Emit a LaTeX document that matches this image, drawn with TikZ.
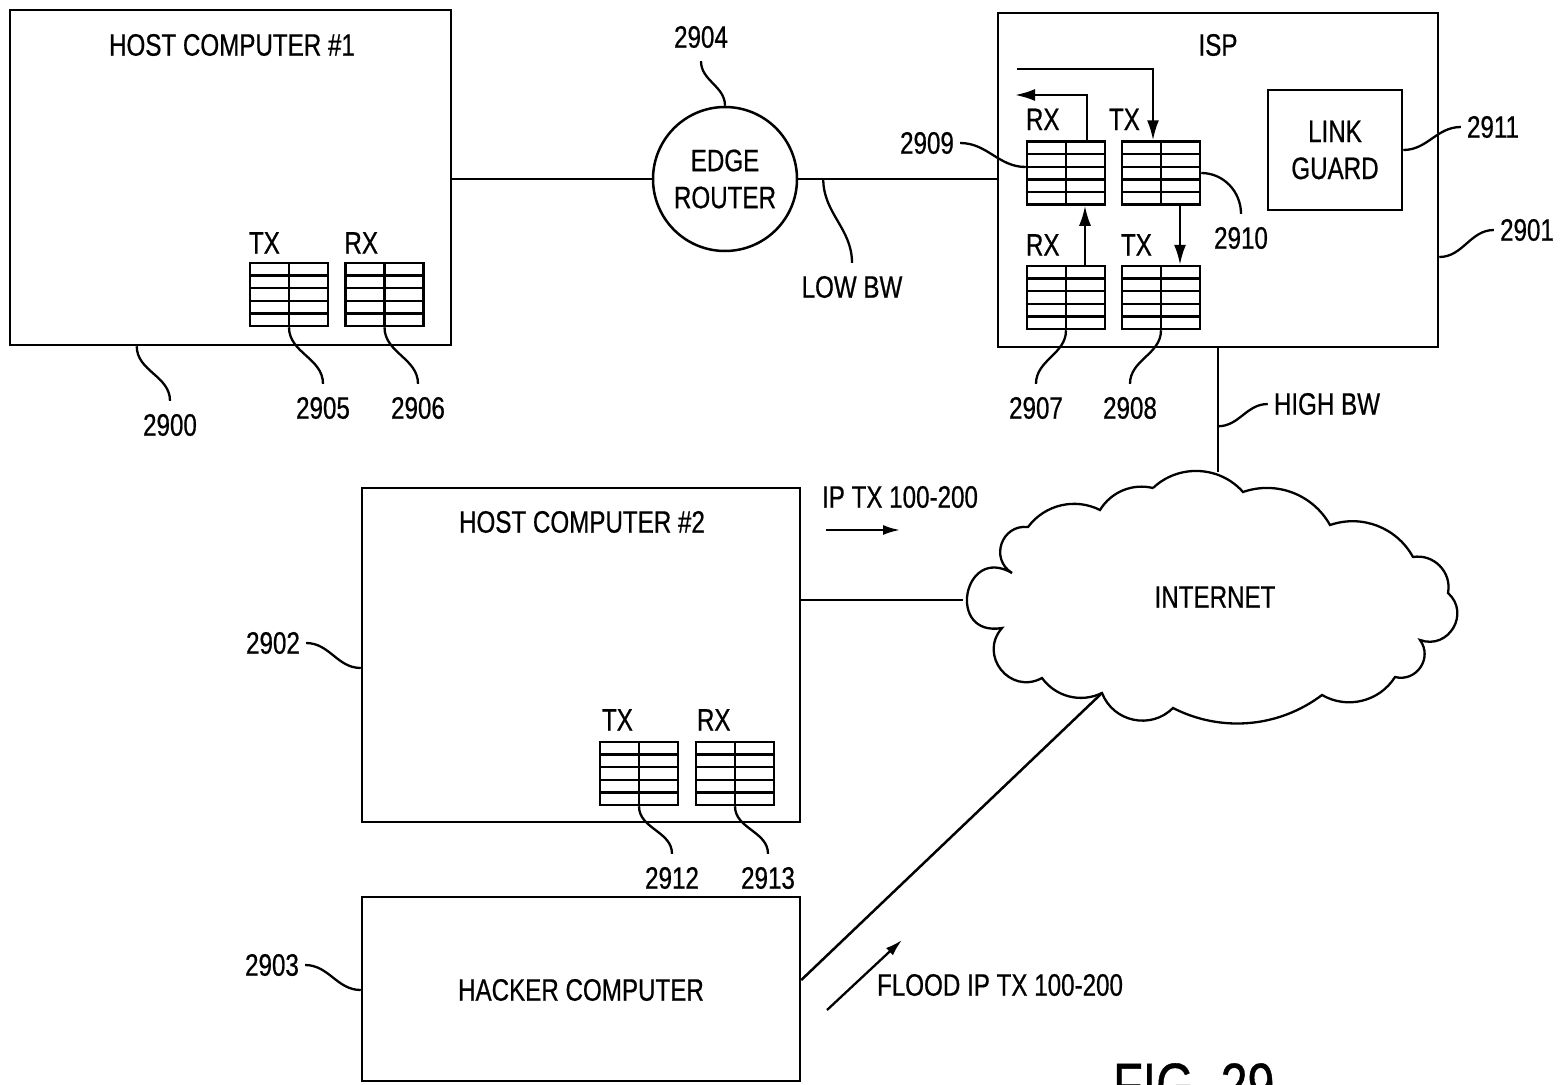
\documentclass[tikz,border=0pt]{standalone}
\usepackage{fontspec}
\setmainfont[FakeStretch=0.78,FakeBold=0.6]{Liberation Sans}
\usetikzlibrary{arrows.meta,calc}
\tikzset{
  box/.style={draw, line width=2.5pt, inner sep=0pt, rectangle},
  queue/.style={draw, line width=2.5pt, inner sep=0pt, minimum width=78pt, minimum height=63pt,
    path picture={
      \foreach \k in {1,2,3,4}{
        \draw[line width=2.4pt] ($(path picture bounding box.north west)!\k/5!(path picture bounding box.south west)$) -- ($(path picture bounding box.north east)!\k/5!(path picture bounding box.south east)$);}
      \draw[line width=2.4pt] (path picture bounding box.north) -- (path picture bounding box.south);}},
  qlab/.style={anchor=south west, inner sep=0pt},
  lbl/.style={inner xsep=6pt, inner ysep=13pt},
  lead/.style={line width=2.3pt},
  conn/.style={line width=2.5pt},
  arr/.style={line width=2.3pt, -{Latex[length=20pt,width=12pt]}},
  sarr/.style={line width=2.3pt, -{Latex[length=17pt,width=10pt]}}
}
\begin{document}
\begin{tikzpicture}[x=1pt,y=-1pt, font=\fontsize{31}{37}\selectfont]
\useasboundingbox (0,0) rectangle (1565,1084);

% Host computer 1
\node[box, minimum width=441pt, minimum height=335pt] (h1) at (230.5,177.5) {};
\node (t1) at (232,45) {HOST COMPUTER \#1};
\node[queue] (q2905) at (289,294.5) {};
\node[queue] (q2906) at (384.5,294.5) {};
\node[qlab] (tx1) at ([yshift=8pt]q2905.north west) {TX};
\node[qlab] (rx1) at ([yshift=8pt]q2906.north west) {RX};
\node[lbl] (l2900) at (170,425) {2900};
\node[lbl] (l2905) at (323,408) {2905};
\node[lbl] (l2906) at (418,408) {2906};
\draw[lead] ($(h1.south west)+(128,0)$) to[out=-90,in=90] (l2900.north);
\draw[lead] (q2905.south) to[out=-90,in=90] (l2905.north);
\draw[lead] (q2906.south) to[out=-90,in=90] (l2906.north);

% Edge router
\node[draw, circle, line width=2.5pt, minimum size=144pt, inner sep=0pt, align=center] (rt) at (725,179) {EDGE\\ROUTER};
\node[lbl] (l2904) at (701,37) {2904};
\draw[lead] (l2904.south) to[out=-90,in=90] (rt.north);
\node[lbl] (llow) at (852,287) {LOW BW};

% ISP
\node[box, minimum width=440pt, minimum height=334pt] (isp) at (1218,180) {};
\node (tisp) at (1218,45) {ISP};
\node[queue] (q2909) at (1066,173) {};
\node[queue] (q2910) at (1161,173) {};
\node[queue] (q2907) at (1066,297.5) {};
\node[queue] (q2908) at (1161,297.5) {};
\node[qlab] (rx2) at ([yshift=10pt]q2909.north west) {RX};
\node[qlab] (tx2) at ([xshift=-12pt,yshift=10pt]q2910.north west) {TX};
\node[qlab] (rx3) at ([yshift=9pt]q2907.north west) {RX};
\node[qlab] (tx3) at ([yshift=9pt]q2908.north west) {TX};
\node[box, minimum width=134pt, minimum height=120pt, align=center] (lg) at (1335,150) {LINK\\GUARD};
\coordinate (fb) at (1017,69);
\coordinate (rxo) at (1015,95);
\draw[arr] (fb) -| ($(q2910.north)+(-8,0)$);
\draw[arr] ($(q2909.north)+(21,0)$) |- (rxo);
\draw[arr] ($(q2907.north)+(19,0)$) -- ($(q2909.south)+(19,0)$);
\draw[arr] ($(q2910.south)+(19,0)$) -- ($(q2908.north)+(19,0)$);
\node[lbl] (l2909) at (927,143) {2909};
\node[lbl] (l2910) at (1241,238) {2910};
\node[lbl] (l2911) at (1493,127) {2911};
\node[lbl] (l2901) at (1527,230) {2901};
\node[lbl] (l2907) at (1036,408) {2907};
\node[lbl] (l2908) at (1130,408) {2908};
\node[lbl] (lhigh) at (1327,404) {HIGH BW};
\draw[lead] (l2909.east) to[out=0,in=180] ($(q2909.west)+(0,-6)$);
\draw[lead] (q2910.east) to[out=0,in=90] (l2910.north);
\draw[lead] (lg.east) to[out=0,in=180] (l2911.west);
\draw[lead] ($(isp.east)+(0,77)$) to[out=0,in=180] (l2901.west);
\draw[lead] (q2907.south) to[out=-90,in=90] (l2907.north);
\draw[lead] (q2908.south) to[out=-90,in=90] (l2908.north);
\draw[lead] ($(isp.south)+(0,78)$) to[out=0,in=180] (lhigh.west);

% connections top
\draw[conn] (rt.west) -- (rt.west -| h1.east);
\draw[conn] (rt.east) -- (rt.east -| isp.west);
\draw[lead] ($(rt.east)+(25,0)$) to[out=-90,in=90] (llow.north);

% Internet cloud
\coordinate (ctop) at (1218,472);
\coordinate (cleft) at (963,600);
\coordinate (cbot) at (1102,693);
\draw[line width=2.3pt] (1153,488) to[bend left=46,looseness=1] (1243,492)
  to[bend left=40,looseness=.97] (1330,525)
  to[bend left=40,looseness=.97] (1413,557)
  to[bend left=55,looseness=1.08] (1448,593)
  to[bend left=79,looseness=1.42] (1420,640)
  to[bend left=70,looseness=1.27] (1395,677)
  to[bend left=44,looseness=.99] (1322,695)
  to[bend left=32,looseness=.93] (1173,708)
  to[bend left=57,looseness=1.1] (1102,693)
  to[bend left=40,looseness=.97] (1042,678)
  to[bend left=80,looseness=1.45] (1002,628)
  to[bend left=110,looseness=2.6] (1012,573)
  to[bend left=77,looseness=1.4] (1028,527)
  to[bend left=40,looseness=.97] (1100,510)
  to[bend left=36,looseness=.95] (1153,488);
\node (inet) at (1215,597) {INTERNET};
\draw[conn] (isp.south) -- (ctop);

% Host computer 2
\node[box, minimum width=438pt, minimum height=334pt] (h2) at (581,655) {};
\node (t2) at (582,522) {HOST COMPUTER \#2};
\node[queue] (q2912) at (639,773.5) {};
\node[queue] (q2913) at (735,773.5) {};
\node[qlab] (tx4) at ([xshift=3pt,yshift=10pt]q2912.north west) {TX};
\node[qlab] (rx4) at ([xshift=2pt,yshift=10pt]q2913.north west) {RX};
\node[lbl] (l2902) at (273,643) {2902};
\node[lbl] (l2912) at (672,878) {2912};
\node[lbl] (l2913) at (768,878) {2913};
\draw[lead] (l2902.east) to[out=0,in=180] ($(h2.west)+(0,13)$);
\draw[lead] (q2912.south) to[out=-90,in=90] (l2912.north);
\draw[lead] (q2913.south) to[out=-90,in=90] (l2913.north);
\draw[conn] (h2.east |- cleft) -- (cleft);
\node (ipt) at (900,497) {IP TX 100-200};
\coordinate (ipa) at (826,530);
\coordinate (ipb) at (900,530);
\draw[sarr] (ipa) -- (ipb);

% Hacker computer
\node[box, minimum width=438pt, minimum height=184pt] (hk) at (581,989) {};
\node (thk) at (581,990) {HACKER COMPUTER};
\node[lbl] (l2903) at (272,965) {2903};
\draw[lead] (l2903.east) to[out=0,in=180] ($(hk.west)+(0,1)$);
\draw[conn] ([yshift=9pt]hk.east) -- (cbot);
\coordinate (fla) at (827,1010);
\coordinate (flb) at (902,940);
\draw[sarr] (fla) -- (flb);
\node (flood) at (1000,985) {FLOOD IP TX 100-200};

% figure label
\node[font=\fontsize{62}{62}\selectfont, anchor=north west, inner sep=0pt] (fig) at (1113,1063) {FIG. 29};
\end{tikzpicture}
\end{document}
